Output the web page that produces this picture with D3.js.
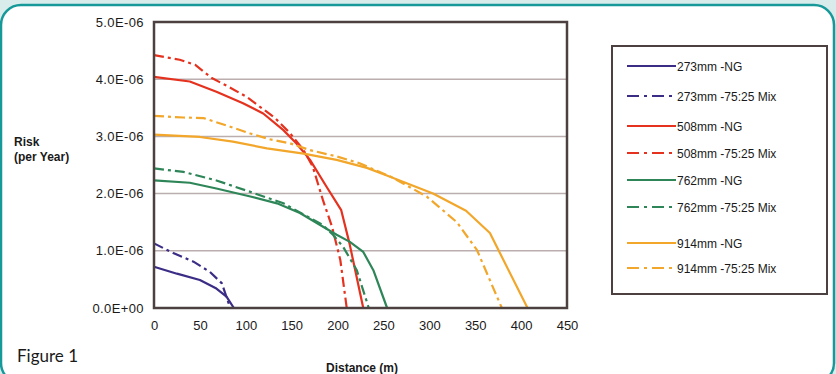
<!DOCTYPE html>
<html>
<head>
<meta charset="utf-8">
<script src="https://cdn.jsdelivr.net/npm/d3@7"></script>
<style>
  body { margin: 0; background: #d8ecec; }
  svg { display: block; }
  text { font-family: "Liberation Sans", Arial, sans-serif; fill: #1a1a1a; }
</style>
</head>
<body>
<svg id="chart" width="836" height="374"></svg>
<script>
// distances (m) and risk (per year)
var dist273NG  = [0, 25, 50, 68, 79, 87];
var risk273NG  = [0.72e-6, 0.60e-6, 0.49e-6, 0.34e-6, 0.2e-6, 0];
var dist273Mix = [0, 21, 43, 61, 74, 83];
var risk273Mix = [1.13e-6, 0.96e-6, 0.81e-6, 0.63e-6, 0.43e-6, 0];

var dist508NG  = [0, 39, 68, 97, 119, 141, 155, 170, 188, 204, 213, 228];
var risk508NG  = [4.04e-6, 3.96e-6, 3.78e-6, 3.58e-6, 3.4e-6, 3.11e-6, 2.88e-6, 2.59e-6, 2.12e-6, 1.71e-6, 1.13e-6, 0];
var dist508Mix = [0, 28, 45, 63, 81, 101, 132, 148, 163, 173, 184, 194, 203, 210];
var risk508Mix = [4.42e-6, 4.34e-6, 4.25e-6, 4.02e-6, 3.87e-6, 3.69e-6, 3.32e-6, 3.06e-6, 2.76e-6, 2.47e-6, 1.89e-6, 1.42e-6, 0.84e-6, 0];

var dist762NG  = [0, 39, 68, 105, 134, 159, 181, 199, 213, 228, 239, 254];
var risk762NG  = [2.23e-6, 2.19e-6, 2.09e-6, 1.95e-6, 1.83e-6, 1.66e-6, 1.45e-6, 1.28e-6, 1.16e-6, 0.98e-6, 0.66e-6, 0];
var dist762Mix = [0, 32, 68, 105, 141, 184, 195, 206, 221, 234];
var risk762Mix = [2.44e-6, 2.38e-6, 2.23e-6, 2.03e-6, 1.83e-6, 1.45e-6, 1.28e-6, 1.07e-6, 0.66e-6, 0];

var dist914NG  = [0, 50, 86, 123, 163, 199, 232, 253, 304, 340, 366, 407];
var risk914NG  = [3.03e-6, 2.99e-6, 2.91e-6, 2.79e-6, 2.7e-6, 2.59e-6, 2.45e-6, 2.32e-6, 2.0e-6, 1.7e-6, 1.31e-6, 0];
var dist914Mix = [0, 32, 54, 83, 105, 126, 148, 170, 199, 224, 260, 297, 330, 352, 379];
var risk914Mix = [3.36e-6, 3.33e-6, 3.32e-6, 3.17e-6, 3.05e-6, 2.95e-6, 2.88e-6, 2.76e-6, 2.65e-6, 2.53e-6, 2.28e-6, 1.95e-6, 1.5e-6, 1.01e-6, 0];

var seriesNames = ["273mm -NG", "273mm -75:25 Mix", "508mm -NG", "508mm -75:25 Mix",
                   "762mm -NG", "762mm -75:25 Mix", "914mm -NG", "914mm -75:25 Mix"];
var xTicks = [0, 50, 100, 150, 200, 250, 300, 350, 400, 450];
var yTicks = [0, 1e-6, 2e-6, 3e-6, 4e-6, 5e-6];

var series = [
  {name: seriesNames[0], x: dist273NG,  y: risk273NG,  color: "#3b2d86", dash: null},
  {name: seriesNames[1], x: dist273Mix, y: risk273Mix, color: "#3b2d86", dash: "10,4,3,4"},
  {name: seriesNames[2], x: dist508NG,  y: risk508NG,  color: "#e5321f", dash: null},
  {name: seriesNames[3], x: dist508Mix, y: risk508Mix, color: "#e5321f", dash: "10,4,3,4"},
  {name: seriesNames[4], x: dist762NG,  y: risk762NG,  color: "#2e8658", dash: null},
  {name: seriesNames[5], x: dist762Mix, y: risk762Mix, color: "#2e8658", dash: "10,4,3,4"},
  {name: seriesNames[6], x: dist914NG,  y: risk914NG,  color: "#f2a62a", dash: null},
  {name: seriesNames[7], x: dist914Mix, y: risk914Mix, color: "#f2a62a", dash: "10,4,3,4"}
];

var svg = d3.select("#chart");

// page frame
svg.append("rect")
    .attr("x", 1).attr("y", 5).attr("width", 833).attr("height", 378)
    .attr("rx", 20).attr("ry", 20)
    .attr("fill", "#ffffff").attr("stroke", "#17999a").attr("stroke-width", 2.5);

var plotLeft = 154, plotRight = 567, plotTop = 22, plotBottom = 308;

var x = d3.scaleLinear().domain([0, 450]).range([plotLeft, plotRight]);
var y = d3.scaleLinear().domain([0, 5e-6]).range([plotBottom, plotTop]);

function sci(d) {
  if (d === 0) return "0.0E+00";
  var p = d.toExponential(1).split("e");
  var e = +p[1];
  return p[0] + "E" + (e < 0 ? "-" : "+") + String(Math.abs(e)).padStart(2, "0");
}

// grid lines
svg.append("g").selectAll("line")
  .data(yTicks.slice(1, 5))
  .enter().append("line")
    .attr("x1", plotLeft).attr("x2", plotRight)
    .attr("y1", function (d) { return y(d); })
    .attr("y2", function (d) { return y(d); })
    .attr("stroke", "#bcaeae").attr("stroke-width", 1.5);

// axes (labels only)
var yAxis = svg.append("g")
    .attr("transform", "translate(" + (plotLeft - 7) + ",0)")
    .call(d3.axisLeft(y).tickValues(yTicks).tickFormat(sci).tickSize(0));
yAxis.select(".domain").remove();
yAxis.selectAll("text")
    .attr("font-size", "13px").attr("fill", "#1a1a1a")
    .attr("letter-spacing", "0.4px")
    .style("font-family", "Liberation Sans, Arial, sans-serif");

var xAxis = svg.append("g")
    .attr("transform", "translate(0," + (plotBottom + 10) + ")")
    .call(d3.axisBottom(x).tickValues(xTicks).tickSize(0));
xAxis.select(".domain").remove();
xAxis.selectAll("text")
    .attr("font-size", "13px").attr("fill", "#1a1a1a")
    .style("font-family", "Liberation Sans, Arial, sans-serif");

// lines
var line = d3.line()
    .x(function (d) { return x(d[0]); })
    .y(function (d) { return y(d[1]); });

series.forEach(function (s) {
  svg.append("path")
      .datum(d3.zip(s.x, s.y))
      .attr("d", line)
      .attr("fill", "none")
      .attr("stroke", s.color)
      .attr("stroke-width", 2.2)
      .attr("stroke-linejoin", "round")
      .attr("stroke-dasharray", s.dash);
});

// plot border
svg.append("rect")
    .attr("x", plotLeft).attr("y", plotTop)
    .attr("width", plotRight - plotLeft).attr("height", plotBottom - plotTop)
    .attr("fill", "none").attr("stroke", "#4d4040").attr("stroke-width", 2.5);

// axis titles
svg.append("text").attr("x", 14).attr("y", 146)
    .attr("font-size", "12px").attr("font-weight", "bold").text("Risk");
svg.append("text").attr("x", 14).attr("y", 161)
    .attr("font-size", "12px").attr("font-weight", "bold").text("(per Year)");
svg.append("text").attr("x", 362).attr("y", 372)
    .attr("text-anchor", "middle")
    .attr("font-size", "12px").attr("font-weight", "bold").text("Distance (m)");

svg.append("text").attr("x", 17).attr("y", 362)
    .attr("font-size", "17px")
    .style("font-family", "Lato, 'Open Sans', sans-serif")
    .attr("fill", "#2a2a2a")
    .text("Figure 1");

// legend
var legendY = [66, 96, 126, 153, 180, 207, 243, 268];
var legend = svg.append("g");
legend.append("rect")
    .attr("x", 612).attr("y", 46).attr("width", 215).attr("height", 248)
    .attr("fill", "#ffffff").attr("stroke", "#4d4040").attr("stroke-width", 2);

var item = legend.selectAll(".item")
  .data(series)
  .enter().append("g")
    .attr("transform", function (d, i) { return "translate(0," + legendY[i] + ")"; });
item.append("line")
    .attr("x1", 627).attr("x2", 676)
    .attr("stroke", function (d) { return d.color; })
    .attr("stroke-width", 2.2)
    .attr("stroke-dasharray", function (d) { return d.dash ? "12,5,3,5" : null; });
item.append("text")
    .attr("x", 677).attr("y", 4.5)
    .attr("font-size", "12px")
    .text(function (d) { return d.name; });
</script>
</body>
</html>
